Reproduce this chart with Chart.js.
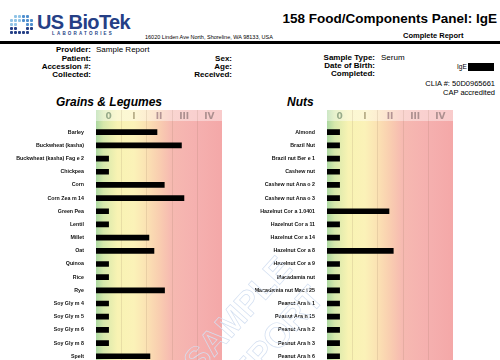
<!DOCTYPE html>
<html>
<head>
<meta charset="utf-8">
<script src="https://cdn.jsdelivr.net/npm/chart.js@4"></script>
<style>
  html, body { margin: 0; padding: 0; }
  body { width: 500px; height: 360px; overflow: hidden; position: relative; background: #fff;
         font-family: 'Liberation Sans', Arial, sans-serif; color: #000; }
  .abs { position: absolute; white-space: nowrap; line-height: 1; }
  .lbl { font-weight: bold; font-size: 8px; text-align: right; }
  .val { font-size: 8px; }
  canvas { position: absolute; }
  #logoDots { position: absolute; left: 10px; top: 15px; width: 24px; height: 20px; }
  #logoDots span { position: absolute; width: 3px; height: 3px; border-radius: 1px; }
</style>
</head>
<body>

<!-- header -->
<div id="logoDots"></div>
<div class="abs" style="left:37px; top:12px; font-size:20px; font-weight:bold; color:#253f86; letter-spacing:-0.6px;">US BioTek</div>
<div class="abs" style="left:52px; top:32px; font-size:4.5px; font-weight:bold; color:#253f86; letter-spacing:2.2px;">LABORATORIES</div>
<div class="abs" style="left:145px; top:35px; font-size:5.5px;">16020 Linden Ave North, Shoreline, WA 98133, USA</div>
<div class="abs" style="right:3px; top:12px; font-size:13.5px; font-weight:bold;">158 Food/Components Panel: IgE</div>
<div class="abs" style="left:403px; top:32px; font-size:7.5px; font-weight:bold;">Complete Report</div>
<div class="abs" style="left:0; top:41px; width:500px; height:3px; background:#000;"></div>

<!-- patient info -->
<div class="abs lbl" style="right:409px; top:46px;">Provider:</div>
<div class="abs val" style="left:96px; top:46px;">Sample Report</div>
<div class="abs lbl" style="right:409px; top:55px;">Patient:</div>
<div class="abs lbl" style="right:409px; top:63px;">Accession #:</div>
<div class="abs lbl" style="right:409px; top:71px;">Collected:</div>
<div class="abs lbl" style="right:268px; top:55px;">Sex:</div>
<div class="abs lbl" style="right:268px; top:63px;">Age:</div>
<div class="abs lbl" style="right:268px; top:71px;">Received:</div>
<div class="abs lbl" style="right:125px; top:54px;">Sample Type:</div>
<div class="abs val" style="left:381px; top:54px;">Serum</div>
<div class="abs lbl" style="right:125px; top:62px;">Date of Birth:</div>
<div class="abs lbl" style="right:125px; top:70px;">Completed:</div>
<div class="abs val" style="left:457px; top:64px; font-size:6.5px;">IgE</div>
<div class="abs" style="left:468px; top:63px; width:26px; height:8px; background:#000;"></div>
<div class="abs val" style="right:5px; top:80px; font-size:7.5px;">CLIA #: 50D0965661</div>
<div class="abs val" style="right:5px; top:89px; font-size:7.5px;">CAP accredited</div>

<div class="abs" style="left:56px; top:96px; font-size:12px; font-weight:bold; font-style:italic;">Grains &amp; Legumes</div>
<div class="abs" style="left:287px; top:96px; font-size:12px; font-weight:bold; font-style:italic;">Nuts</div>

<canvas id="grainsChart" width="240" height="270" style="left:0; top:100px;"></canvas>
<canvas id="nutsChart" width="240" height="270" style="left:240px; top:100px;"></canvas>

<svg class="abs" width="500" height="360" style="left:0; top:0; pointer-events:none;">
  <g fill="none" stroke="#d3dff1" stroke-width="0.7" font-family="Liberation Sans, Arial, sans-serif" font-weight="bold" font-size="34">
    <text x="0" y="0" text-anchor="middle" transform="translate(246 322) rotate(-48)">SAMPLE</text>
    <text x="0" y="0" text-anchor="middle" transform="translate(278 352) rotate(-48)">REPORT</text>
  </g>
</svg>

<script>
// --- data ---
const levelLabels = ['0', 'I', 'II', 'III', 'IV'];

const grainLabels = ['Barley', 'Buckwheat (kasha)', 'Buckwheat (kasha) Fag e 2', 'Chickpea', 'Corn',
  'Corn Zea m 14', 'Green Pea', 'Lentil', 'Millet', 'Oat', 'Quinoa', 'Rice', 'Rye',
  'Soy Gly m 4', 'Soy Gly m 5', 'Soy Gly m 6', 'Soy Gly m 8', 'Spelt'];
const grainValues = [2.42, 3.39, 0.5, 0.5, 2.71, 3.49, 0.5, 0.5, 2.1, 2.3, 0.5, 0.5, 2.72,
  0.5, 0.5, 0.5, 0.5, 2.14];

const nutLabels = ['Almond', 'Brazil Nut', 'Brazil nut Ber e 1', 'Cashew nut', 'Cashew nut Ana o 2',
  'Cashew nut Ana o 3', 'Hazelnut Cor a 1.0401', 'Hazelnut Cor a 11', 'Hazelnut Cor a 14',
  'Hazelnut Cor a 8', 'Hazelnut Cor a 9', 'Macadamia nut', 'Macadamia nut Mac i 25',
  'Peanut Ara h 1', 'Peanut Ara h 15', 'Peanut Ara h 2', 'Peanut Ara h 3', 'Peanut Ara h 6'];
const nutValues = [0.5, 0.5, 0.5, 0.5, 0.5, 0.5, 2.46, 0.5, 0.5, 2.63, 0.5, 0.5, 0.5,
  0.5, 0.5, 0.5, 0.5, 0.5];

// --- styles ---
const zoneStops = [[0, '#abd7a0'], [0.3, '#d6e8ab'], [0.85, '#f8f3b3'], [1.5, '#fbf2b8'],
  [2.0, '#fbe2b3'], [2.5, '#f9ceb0'], [3.0, '#f6b9b1'], [4.0, '#f5b0af'], [5.0, '#f4a8a8']];
const levelColors = ['#97ab8a', '#b6ad86', '#b39494', '#ad9090', '#ad9090'];

// little dot grid of the logo
(function () {
  const rows = ['.oooo.', 'oooooo', 'oo..oo', 'xx..xx', 'xxxxx.'];
  const box = document.getElementById('logoDots');
  rows.forEach((r, j) => {
    [...r].forEach((c, i) => {
      if (c === '.') return;
      const d = document.createElement('span');
      d.style.left = (i * 4) + 'px';
      d.style.top = (j * 4) + 'px';
      d.style.background = c === 'o' ? (i < 3 ? '#8fc3e6' : '#4f8fcf') : '#253f86';
      box.appendChild(d);
    });
  });
})();

// background zones + header band
const zonePlugin = {
  id: 'zones',
  beforeDraw(chart) {
    const { ctx, chartArea, scales } = chart;
    const x = scales.x, band = scales.levels;
    const left = chartArea.left, right = chartArea.right;
    const bandTop = band.top, bandBottom = band.top + 11;

    const g = ctx.createLinearGradient(left, 0, right, 0);
    zoneStops.forEach(s => g.addColorStop(s[0] / 5, s[1]));

    ctx.save();
    ctx.fillStyle = g;
    ctx.fillRect(left, bandBottom, right - left, chartArea.bottom - bandBottom + 20);
    ctx.globalAlpha = 0.6;
    ctx.fillRect(left, bandTop, right - left, bandBottom - bandTop);
    ctx.globalAlpha = 1;

    ctx.strokeStyle = 'rgba(140,110,90,0.16)';
    ctx.lineWidth = 1;
    for (let i = 1; i < levelLabels.length; i++) {
      const px = Math.round(x.getPixelForValue(i)) + 0.5;
      ctx.beginPath();
      ctx.moveTo(px, bandTop);
      ctx.lineTo(px, chartArea.bottom + 20);
      ctx.stroke();
    }
    ctx.restore();
  }
};

function makePanel(id, labels, values, axisWidth, padRight) {
  return new Chart(document.getElementById(id), {
    type: 'bar',
    data: {
      labels: labels,
      datasets: [{
        data: values,
        backgroundColor: '#000',
        barThickness: 5,
        borderWidth: 0
      }]
    },
    options: {
      indexAxis: 'y',
      responsive: false,
      animation: false,
      devicePixelRatio: 1,
      layout: { padding: { top: 10, right: padRight, bottom: 3, left: 0 } },
      plugins: { legend: { display: false }, tooltip: { enabled: false } },
      scales: {
        x: {
          type: 'linear', position: 'bottom', min: 0, max: 5,
          grid: { display: false },
          border: { display: false },
          ticks: { display: false },
          afterFit: s => { s.height = 0; }
        },
        levels: {
          type: 'linear', position: 'top', axis: 'x', min: 0, max: 5,
          grid: { display: false, drawTicks: false },
          border: { display: false },
          afterBuildTicks: s => { s.ticks = levelLabels.map((_, i) => ({ value: i + 0.5 })); },
          ticks: {
            padding: 4,
            autoSkip: false,
            maxRotation: 0,
            font: { family: 'DejaVu Sans', size: 9, weight: 'bold' },
            color: c => levelColors[c.index],
            callback: v => levelLabels[Math.floor(v)]
          },
          afterFit: s => { s.height = 15.6; }
        },
        y: {
          type: 'category',
          grid: { display: false },
          border: { display: false },
          ticks: {
            padding: 4,
            autoSkip: false,
            color: '#111',
            font: { family: 'Liberation Sans', size: 5.3, weight: 'bold' }
          },
          afterFit: s => { s.width = axisWidth; }
        }
      }
    },
    plugins: [zonePlugin]
  });
}

makePanel('grainsChart', grainLabels, grainValues, 96, 18);
makePanel('nutsChart', nutLabels, nutValues, 87, 27);
</script>
</body>
</html>
